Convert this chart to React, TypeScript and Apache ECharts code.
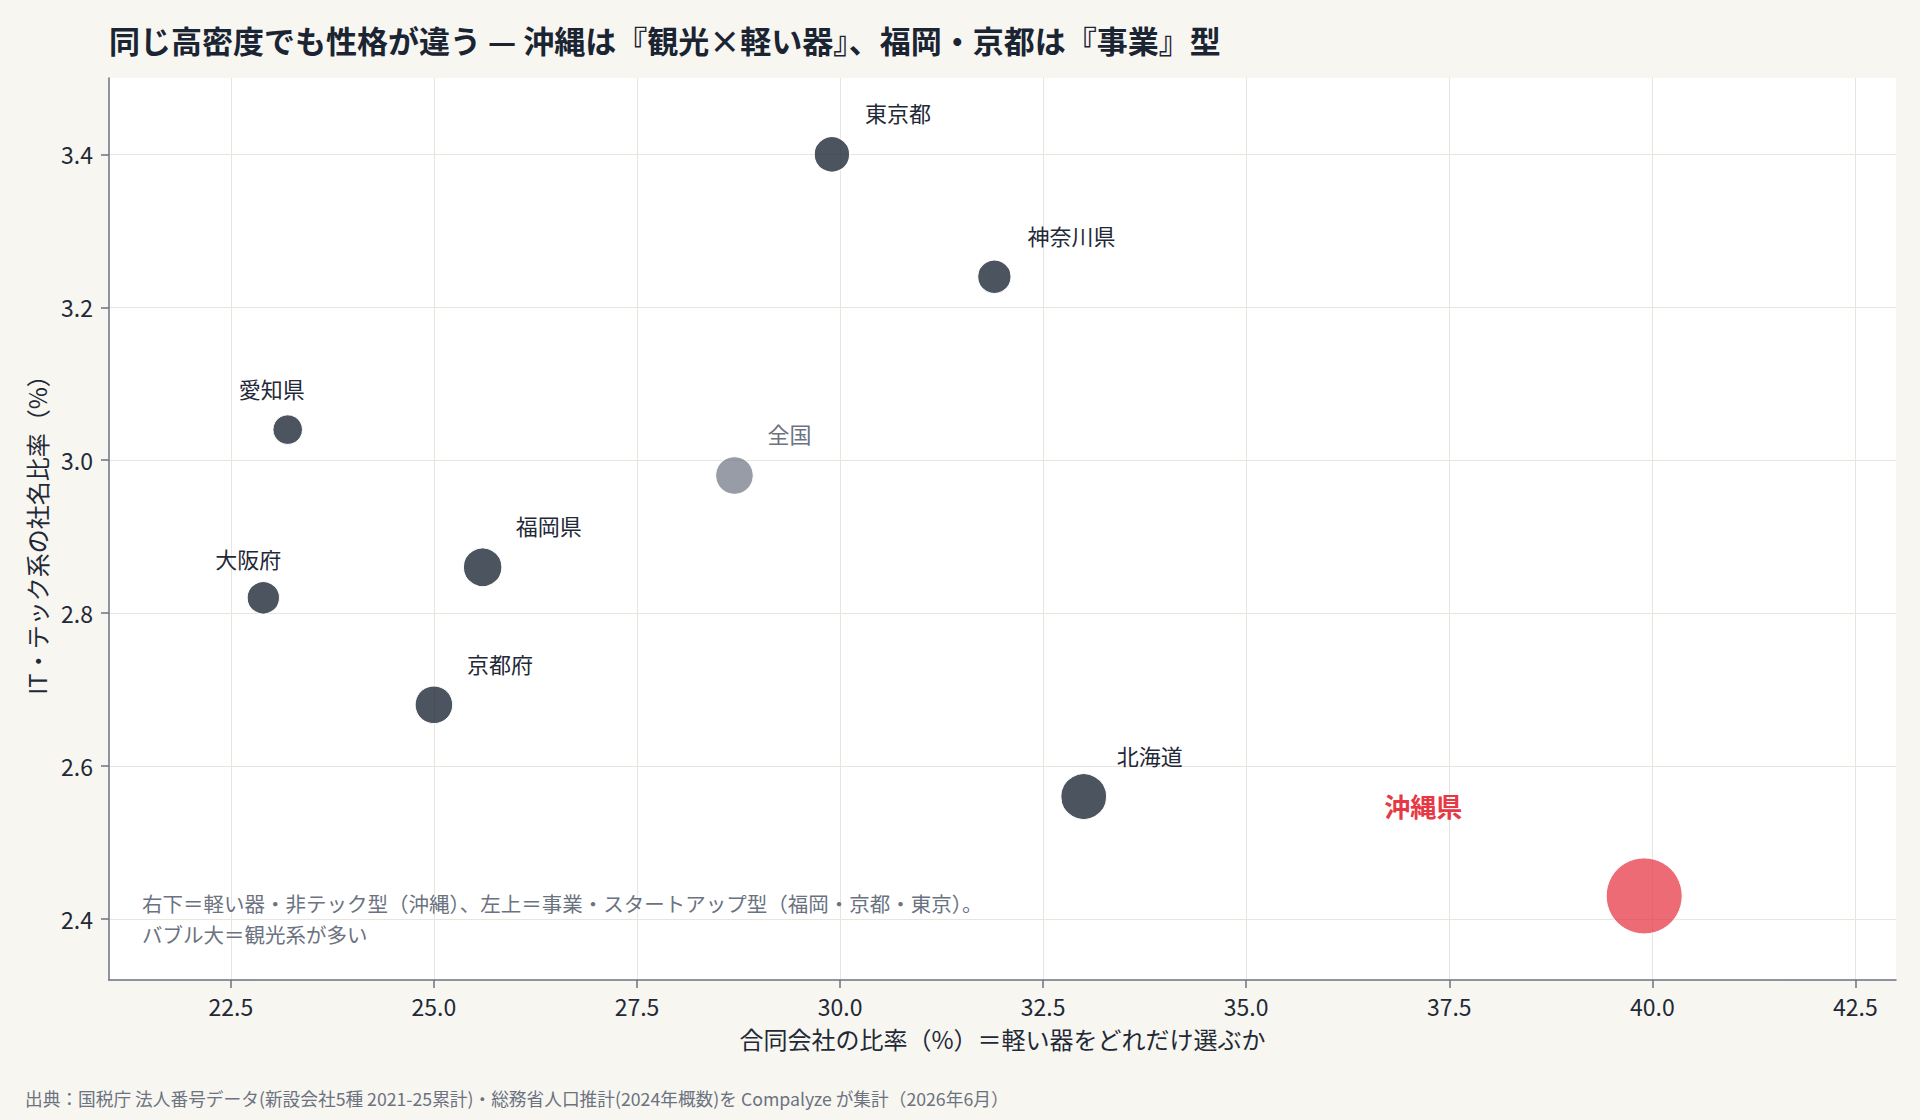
import React, { useEffect, useRef } from "react";
import * as echarts from "echarts";

// ---- data ----
const prefectures = ["東京都", "神奈川県", "愛知県", "全国", "福岡県", "大阪府", "京都府", "北海道", "沖縄県"];
const llcShare = [29.9, 31.9, 23.2, 28.7, 25.6, 22.9, 25.0, 33.0, 39.9]; // 合同会社の比率（%）
const techShare = [3.4, 3.24, 3.04, 2.98, 2.86, 2.82, 2.68, 2.56, 2.43]; // IT・テック系の社名比率（%）
const tourismShare = [8.0, 7.1, 5.6, 9.0, 9.5, 6.7, 9.0, 13.4, 37.0]; // 観光系（バブルの大きさ）
const xTicks = [22.5, 25.0, 27.5, 30.0, 32.5, 35.0, 37.5, 40.0, 42.5];
const yTicks = [2.4, 2.6, 2.8, 3.0, 3.2, 3.4];

const TITLE = "同じ高密度でも性格が違う — 沖縄は『観光×軽い器』、福岡・京都は『事業』型";
const X_NAME = "合同会社の比率（%）＝軽い器をどれだけ選ぶか";
const Y_NAME = "IT・テック系の社名比率（%）";
const NOTE = "右下＝軽い器・非テック型（沖縄）、左上＝事業・スタートアップ型（福岡・京都・東京）。\nバブル大＝観光系が多い";
const SOURCE = "出典：国税庁 法人番号データ(新設会社5種 2021-25累計)・総務省人口推計(2024年概数)を Compalyze が集計（2026年6月）";

// ---- styles / layout ----
const FONT = "'Noto Sans CJK JP', 'Noto Sans', sans-serif";
const DARK = "#1f2937";
const GRAY = "#6b7280";
const RED = "#e63946";
const DARK_FILL = "rgba(31,41,55,0.8)";
const GRAY_FILL = "rgba(107,114,128,0.7)";
const RED_FILL = "rgba(230,57,70,0.75)";
const LABEL_OFFSET: Record<string, [number, number]> = {
  "愛知県": [-49, -42],
  "大阪府": [-48, -40],
  "沖縄県": [-260, -90],
};
const DEFAULT_OFFSET: [number, number] = [33, -42];

export default function App() {
  const ref = useRef<HTMLDivElement>(null);

  useEffect(() => {
    document.body.style.margin = "0";
    if (!ref.current) return;
    const chart = echarts.init(ref.current, undefined, { renderer: "svg" });

    const data = prefectures.map((name, i) => {
      const isOkinawa = name === "沖縄県";
      const isNational = name === "全国";
      const fill = isOkinawa ? RED_FILL : isNational ? GRAY_FILL : DARK_FILL;
      return {
        name,
        value: [llcShare[i], techShare[i], tourismShare[i]],
        itemStyle: { color: fill, opacity: 1, borderColor: "#ffffff", borderWidth: 1 },
        label: {
          show: true,
          position: "inside",
          align: "left",
          verticalAlign: "middle",
          offset: LABEL_OFFSET[name] || DEFAULT_OFFSET,
          formatter: "{b}",
          fontFamily: FONT,
          fontSize: isOkinawa ? 26 : 22,
          fontWeight: isOkinawa ? "bold" : "normal",
          color: isOkinawa ? RED : isNational ? GRAY : DARK,
        },
      };
    });

    chart.setOption({
      animation: false,
      backgroundColor: "#f8f6f0",
      textStyle: { fontFamily: FONT },
      title: {
        text: TITLE,
        left: 109,
        top: 24,
        padding: 0,
        textStyle: { fontFamily: FONT, fontSize: 31, fontWeight: "bold", color: "#1a2433" },
      },
      grid: {
        left: 109,
        right: 24,
        top: 78,
        bottom: 140,
        show: true,
        backgroundColor: "#ffffff",
        borderWidth: 0,
      },
      xAxis: {
        type: "value",
        min: 21,
        max: 43,
        name: X_NAME,
        nameLocation: "middle",
        nameGap: 46,
        nameTextStyle: { fontFamily: FONT, fontSize: 24, color: DARK },
        axisLine: { show: true, onZero: false, lineStyle: { color: GRAY, width: 1.5 } },
        axisTick: { show: true, inside: false, length: 8, customValues: xTicks, lineStyle: { color: GRAY, width: 1.5 } },
        axisLabel: {
          customValues: xTicks,
          formatter: (v: number) => v.toFixed(1),
          fontFamily: FONT,
          fontSize: 23,
          color: DARK,
          margin: 14,
        },
        splitLine: { show: true, lineStyle: { color: "#e7e5de", width: 1 } },
      },
      yAxis: {
        type: "value",
        min: 2.32,
        max: 3.5,
        name: Y_NAME,
        nameLocation: "middle",
        nameGap: 61,
        nameTextStyle: { fontFamily: FONT, fontSize: 24, color: DARK },
        axisLine: { show: true, onZero: false, lineStyle: { color: GRAY, width: 1.5 } },
        axisTick: { show: true, inside: false, length: 8, customValues: yTicks, lineStyle: { color: GRAY, width: 1.5 } },
        axisLabel: {
          customValues: yTicks,
          formatter: (v: number) => v.toFixed(1),
          fontFamily: FONT,
          fontSize: 23,
          color: DARK,
          margin: 16,
        },
        splitLine: { show: true, lineStyle: { color: "#e7e5de", width: 1 } },
      },
      graphic: [
        {
          type: "text",
          x: 142,
          y: 887,
          z: 10,
          style: {
            text: NOTE,
            fontFamily: FONT,
            fontSize: 20.5,
            lineHeight: 31,
            fill: GRAY,
          },
        },
        {
          type: "text",
          x: 25,
          y: 1098,
          style: {
            text: SOURCE,
            fontFamily: FONT,
            fontSize: 17.7,
            fill: GRAY,
            verticalAlign: "middle",
          },
        },
      ],
      series: [
        {
          type: "scatter",
          data,
          symbol: "circle",
          symbolSize: (val: number[]) => 12.5 * Math.sqrt(val[2]),
          z: 3,
        },
      ],
    });

    return () => {
      chart.dispose();
    };
  }, []);

  return <div ref={ref} style={{ width: 1920, height: 1120 }} />;
}
